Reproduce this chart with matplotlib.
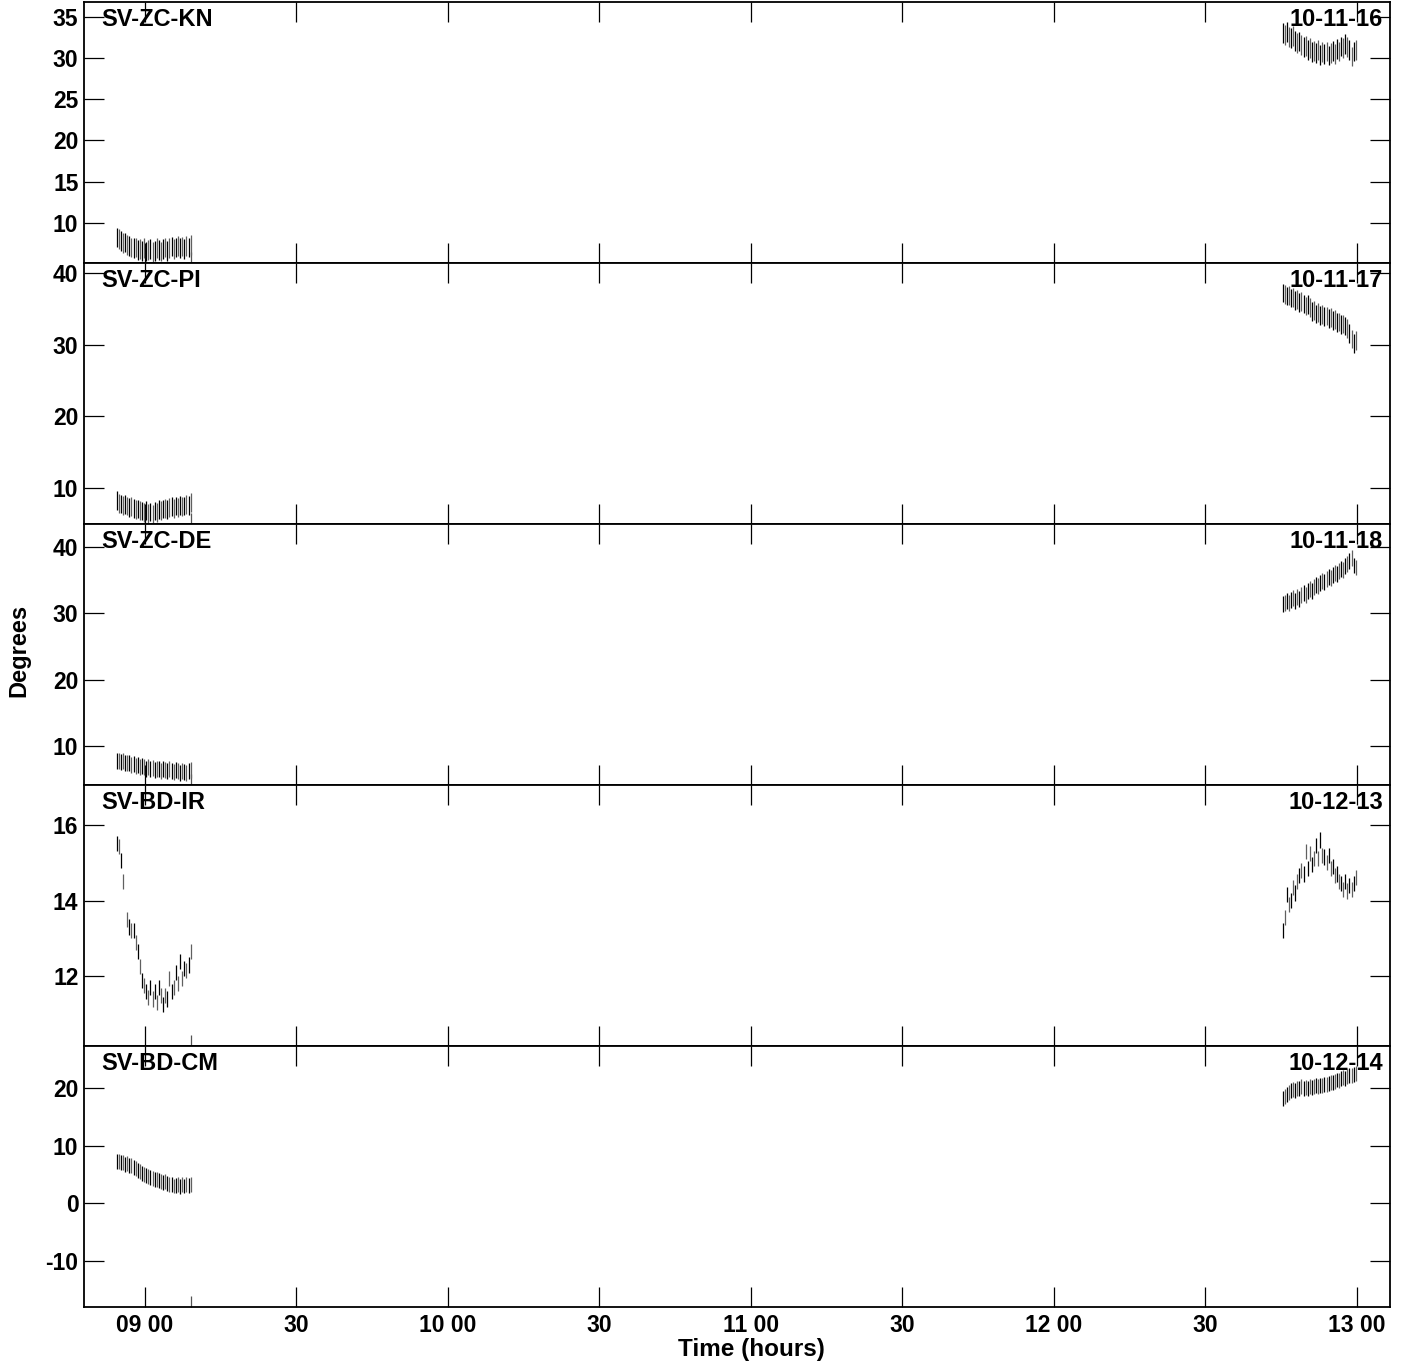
import numpy as np
import matplotlib.pyplot as plt

plt.rcParams['font.family'] = ['Liberation Sans', 'DejaVu Sans']
plt.rcParams['font.weight'] = 'bold'
plt.rcParams['axes.unicode_minus'] = False

# stations, dates and axis setup for each panel
stations = ['SV-ZC-KN', 'SV-ZC-PI', 'SV-ZC-DE', 'SV-BD-IR', 'SV-BD-CM']
dates = ['10-11-16', '10-11-17', '10-11-18', '10-12-13', '10-12-14']
ylims = [(5.1, 36.8), (5.0, 41.4), (4.15, 43.45), (10.16, 17.05), (-18.0, 27.3)]
yticks = [[10, 15, 20, 25, 30, 35], [10, 20, 30, 40], [10, 20, 30, 40],
          [12, 14, 16], [-10, 0, 10, 20]]

# observation windows (decimal hours)
seg1_start, seg1_end = 8.908, 9.152
seg2_start, seg2_end = 12.756, 12.997
n_obs = 36

# centre values (degrees) of each bar, first and second window
kn_1 = [8.2, 8.0, 7.8, 7.5, 7.6, 7.3, 7.2, 7.0, 6.9, 7.0, 6.7, 6.8, 6.6, 6.9, 6.5, 6.7, 6.8, 6.4,
        6.6, 6.9, 6.7, 6.5, 6.8, 7.0, 6.6, 6.9, 7.1, 6.8, 7.0, 7.2, 6.9, 7.1, 6.8, 7.2, 7.0, 7.3]
kn_2 = [33.0, 32.8, 33.2, 32.6, 32.4, 32.7, 32.1, 31.8, 32.0, 31.6, 31.3, 31.5, 31.0, 31.2, 30.7,
        30.9, 30.6, 31.0, 30.4, 30.7, 30.5, 30.8, 30.3, 30.6, 30.9, 30.5, 31.1, 30.8, 31.4, 31.2,
        31.7, 31.3, 31.0, 30.2, 30.8, 31.0]
pi_1 = [8.3, 7.9, 7.8, 7.6, 7.7, 7.5, 7.3, 7.4, 7.2, 7.0, 7.1, 6.9, 6.8, 6.6, 6.9, 6.5, 6.7, 6.4,
        6.8, 6.6, 7.0, 6.9, 7.1, 7.2, 7.0, 7.3, 7.4, 7.2, 7.5, 7.3, 7.6, 7.4, 7.5, 7.7, 7.6, 8.0]
pi_2 = [37.2, 37.0, 36.8, 36.9, 36.5, 36.6, 36.2, 36.3, 35.9, 36.0, 35.7, 35.4, 35.6, 35.2, 34.6,
        34.8, 34.3, 34.5, 34.1, 34.2, 33.9, 34.0, 33.7, 33.8, 33.4, 33.5, 33.1, 33.2, 32.8, 32.9,
        32.6, 32.3, 31.6, 30.8, 30.2, 30.6]
de_1 = [7.8, 7.7, 7.6, 7.8, 7.5, 7.4, 7.5, 7.2, 7.3, 7.0, 7.1, 6.9, 7.0, 6.8, 6.6, 6.8, 6.5, 6.7,
        6.4, 6.6, 6.5, 6.3, 6.6, 6.4, 6.2, 6.5, 6.3, 6.1, 6.4, 6.2, 6.0, 6.3, 6.1, 5.9, 6.2, 6.4]
de_2 = [31.4, 31.6, 31.8, 31.5, 32.0, 32.3, 31.9, 32.5, 32.2, 32.8, 33.0, 32.7, 33.3, 33.6, 33.4,
        34.0, 34.3, 34.1, 34.6, 34.9, 34.7, 35.2, 35.5, 35.3, 35.8, 36.1, 35.9, 36.4, 36.7, 36.5,
        37.1, 37.5, 37.9, 38.4, 37.2, 36.9]
ir_1 = [15.5, 15.42, 15.05, 14.5, np.nan, 13.5, 13.3, 13.2, 13.2, 12.9, 12.65, 12.25, 11.9, 11.75,
        11.6, 11.45, 11.7, 11.4, 11.6, 11.3, 11.7, 11.5, 11.25, 11.5, 11.4, 11.95, 11.6, 11.7,
        12.1, 11.8, 12.4, 11.95, 12.2, 12.15, 12.3, 12.65]
ir_2 = [13.2, 13.55, 14.15, 13.9, 14.0, 14.35, 14.2, 14.5, 14.65, 14.8, 14.7, 15.3, 14.85, 15.25,
        14.95, 15.1, 15.45, 15.1, 15.6, 15.2, 15.15, 15.0, 15.2, 14.85, 14.9, 14.65, 14.7, 14.5,
        14.45, 14.3, 14.5, 14.25, 14.4, 14.3, 14.45, 14.6]
cm_1 = [7.2, 7.3, 7.0, 7.1, 6.8, 6.9, 6.6, 6.5, 6.2, 6.0, 5.7, 5.5, 5.2, 5.0, 4.9, 4.6, 4.5, 4.3,
        4.1, 4.2, 3.9, 3.8, 3.6, 3.7, 3.4, 3.2, 3.3, 3.0, 3.1, 3.3, 2.9, 3.2, 3.0, 3.3, 3.1, 3.2]
cm_2 = [18.2, 18.5, 18.9, 19.2, 19.5, 19.8, 19.6, 20.0, 19.9, 20.2, 19.9, 20.1, 20.0, 20.3, 20.1,
        20.2, 20.4, 20.3, 20.5, 20.4, 20.7, 20.6, 20.8, 21.0, 20.9, 21.2, 21.4, 21.3, 21.6, 21.8,
        21.7, 22.0, 22.2, 22.1, 22.4, 22.5]

centres = [(kn_1, kn_2), (pi_1, pi_2), (de_1, de_2), (ir_1, ir_2), (cm_1, cm_2)]
# half length of the error bars per panel
half_err = [1.2, 1.3, 1.2, 0.2, 1.3]

xticks = [9.0, 9.5, 10.0, 10.5, 11.0, 11.5, 12.0, 12.5, 13.0]
xlabels = ['09 00', '30', '10 00', '30', '11 00', '30', '12 00', '30', '13 00']

fig, axes = plt.subplots(5, 1, figsize=(14.04, 13.66), dpi=100, sharex=True)
fig.subplots_adjust(left=0.0598, right=0.990, top=0.9985, bottom=0.0432, hspace=0)

t1 = np.linspace(seg1_start, seg1_end, n_obs)
t2 = np.linspace(seg2_start, seg2_end, n_obs)
cols = ['black' if i % 2 == 0 else '#606060' for i in range(n_obs)]

for k, ax in enumerate(axes):
    for t, vals in zip((t1, t2), centres[k]):
        v = np.array(vals, dtype=float)
        ax.vlines(t, v - half_err[k], v + half_err[k], colors=cols, linewidth=0.9)
    ax.set_ylim(*ylims[k])
    ax.set_yticks(yticks[k])
    ax.set_xlim(8.80, 13.11)
    ax.tick_params(axis='both', direction='in', length=14.5, width=0.9,
                   top=True, right=True, labelsize=16.5, pad=5)
    ax.tick_params(axis='y', pad=4)
    ax.set_xticks([9.152], minor=True)
    ax.tick_params(axis='x', which='minor', direction='in', length=8, width=0.9,
                   color='#555555', top=False)
    for lab in ax.get_yticklabels():
        lab.set_fontweight('bold')
    for s in ax.spines.values():
        s.set_linewidth(1.3)
    ax.text(0.013, 0.978, stations[k], transform=ax.transAxes, ha='left', va='top',
            fontsize=17, fontweight='bold')
    ax.text(0.9946, 0.978, dates[k], transform=ax.transAxes, ha='right', va='top',
            fontsize=17, fontweight='bold')

axes[-1].set_xticks(xticks)
axes[-1].set_xticklabels(xlabels, fontweight='bold')
fig.text(0.535, 0.004, 'Time (hours)', ha='center', va='bottom', fontsize=17.5, fontweight='bold')
fig.text(0.005, 0.524, 'Degrees', rotation=90, ha='left', va='center', fontsize=17,
         fontweight='bold')

fig.savefig('out.png', dpi=100)
